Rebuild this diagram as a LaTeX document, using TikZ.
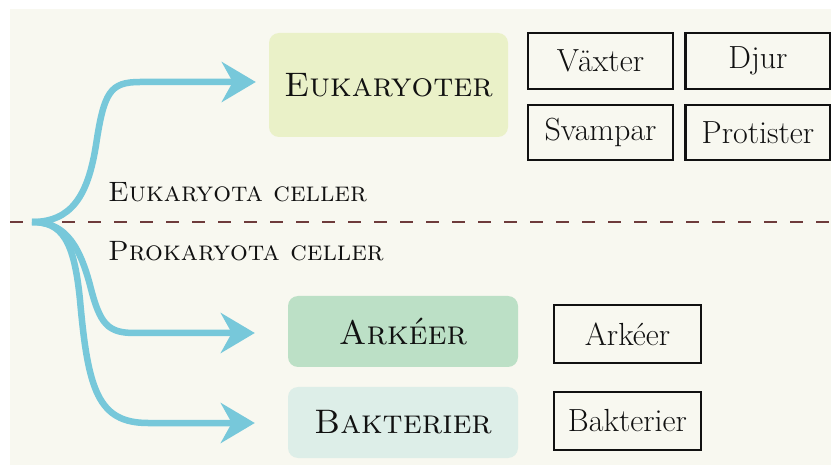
\documentclass[tikz,border=0pt]{standalone}
\usetikzlibrary{arrows.meta}
\definecolor{bgcream}{HTML}{F8F8F0}
\definecolor{eukfill}{HTML}{EAF1C8}
\definecolor{arkfill}{HTML}{BCE0C6}
\definecolor{bakfill}{HTML}{DDEEE8}
\definecolor{arrowblue}{HTML}{77C8DA}
\definecolor{dashbrown}{HTML}{6E3B3B}
\definecolor{inkblack}{HTML}{111111}
\tikzset{
  bigbox/.style={rounded corners=10pt, inner sep=0pt, text=inkblack,
    font=\fontsize{34}{40}\selectfont\scshape},
  smallbox/.style={draw=inkblack, line width=2.5pt, fill=bgcream, inner sep=0pt,
    minimum width=145pt, minimum height=56pt, text=inkblack,
    font=\fontsize{32}{38}\selectfont},
  sectionlabel/.style={anchor=base west, inner sep=0pt, text=inkblack,
    font=\fontsize{28}{34}\selectfont\scshape},
  branch/.style={draw=arrowblue, line width=6.5pt,
    -{Stealth[length=34pt, width=40pt, inset=11pt]}},
}
\begin{document}
\begin{tikzpicture}[x=1pt, y=-1pt]
\useasboundingbox (0,0) rectangle (831,465);
\fill[white] (0,0) rectangle (831,465);
\fill[bgcream] (10,9) rectangle (831,465);

% dashed divider
\draw[dashbrown, line width=2pt, dash pattern=on 13pt off 13pt] (10,222) -- (831,222);

% main boxes
\node[bigbox, fill=eukfill, minimum width=239pt, minimum height=104pt] (euk) at (388.5,85) {Eukaryoter};
\node[bigbox, fill=arkfill, minimum width=230pt, minimum height=71pt] (ark) at (403,331.5) {Ark\'eer};
\node[bigbox, fill=bakfill, minimum width=230pt, minimum height=71pt] (bak) at (403,422.5) {Bakterier};

% small boxes
\node[smallbox] (vax) at (600.5,61) {V\"axter};
\node[smallbox] (djur) at (758,61) {Djur};
\node[smallbox, minimum height=55pt] (svamp) at (600.5,132.5) {Svampar};
\node[smallbox, minimum height=55pt] (prot) at (758,132.5) {Protister};
\node[smallbox, minimum width=147pt, minimum height=58pt] (arks) at (627.5,334) {Ark\'eer};
\node[smallbox, minimum width=147pt, minimum height=58pt] (baks) at (627.5,421) {Bakterier};

% labels
\node[sectionlabel] (eukl) at (108,202) {Eukaryota celler};
\node[sectionlabel] (prokl) at (108,261) {Prokaryota celler};

% branching arrows
\coordinate (root) at (32,222);
\coordinate (eukin) at ([xshift=-13pt]euk.west |- 0,82);
\coordinate (arkin) at ([xshift=-33pt]ark.west |- 0,333);
\coordinate (bakin) at ([xshift=-33pt]bak.west |- 0,423);
\draw[branch] (root) .. controls (72,222) and (88,195) .. (96,145)
  .. controls (104,92) and (110,82) .. (140,82) -- (eukin);
\draw[branch] (root) .. controls (62,222) and (78,240) .. (90,285)
  .. controls (100,325) and (108,333) .. (135,333) -- (arkin);
\draw[branch] (root) .. controls (62,222) and (74,240) .. (80,300)
  .. controls (88,390) and (98,423) .. (148,423) -- (bakin);
\end{tikzpicture}
\end{document}
